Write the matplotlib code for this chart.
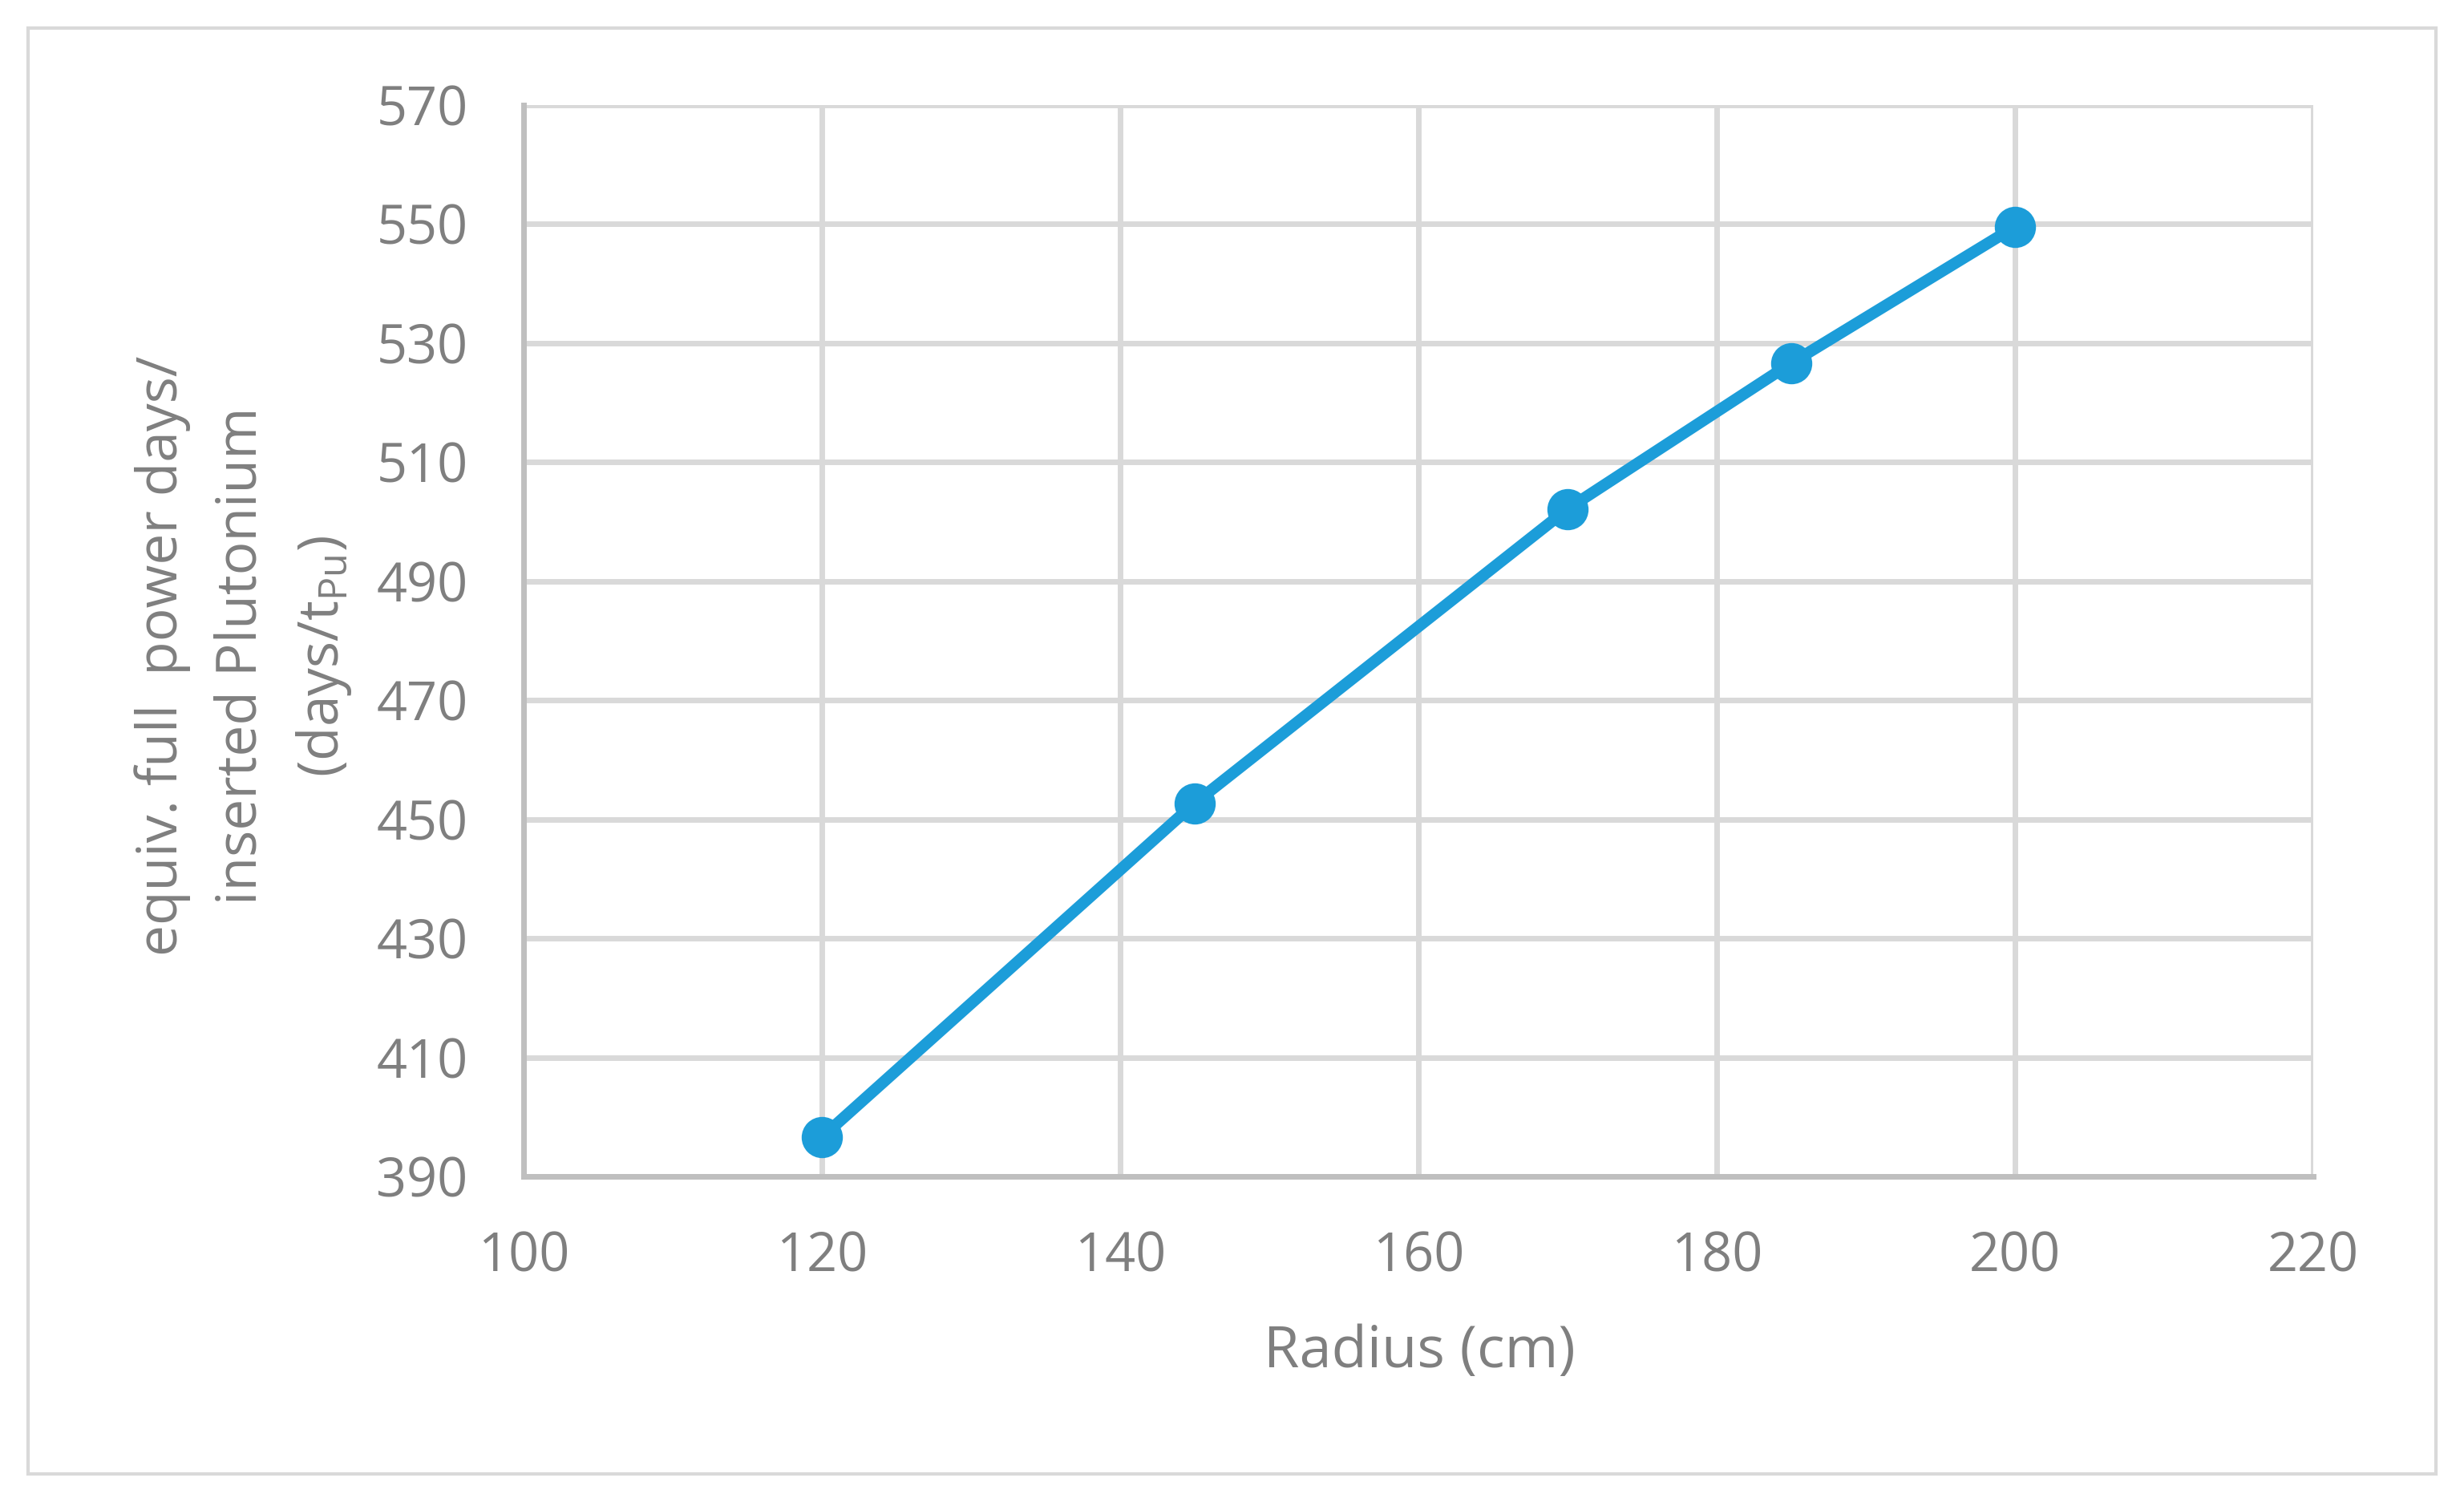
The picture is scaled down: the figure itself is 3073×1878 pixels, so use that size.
import matplotlib
matplotlib.use('Agg')
import matplotlib.pyplot as plt
from matplotlib.patches import Rectangle

plt.rcParams['font.family'] = ['Open Sans', 'DejaVu Sans']
plt.rcParams['mathtext.default'] = 'regular'

# data
radius = [120, 145, 170, 185, 200]
efpd_per_tpu = [396.6, 452.7, 502.1, 526.6, 549.5]

x_ticks = [100, 120, 140, 160, 180, 200, 220]
y_ticks = [390, 410, 430, 450, 470, 490, 510, 530, 550, 570]

grey_text = '#7F7F7F'
blue = '#1C9DD9'

fig = plt.figure(figsize=(15.365, 9.39), dpi=200)
ax = fig.add_axes([0.2125, 0.2188, 0.7263, 0.7117])

ax.plot(radius, efpd_per_tpu, color=blue, lw=5.2, marker='o', ms=17.5,
        markerfacecolor=blue, markeredgecolor=blue, zorder=3, clip_on=False)

ax.set_xlim(100, 220)
ax.set_ylim(390, 570)
ax.set_xticks(x_ticks)
ax.set_yticks(y_ticks)
ax.grid(True, color='#D9D9D9', lw=2.5)
ax.set_axisbelow(True)

for s in ['top', 'right']:
    ax.spines[s].set_visible(False)
for s in ['left', 'bottom']:
    ax.spines[s].set_color('#BFBFBF')
    ax.spines[s].set_linewidth(2.5)

ax.tick_params(length=0, labelsize=24, labelcolor=grey_text)
ax.tick_params(axis='y', pad=25)
ax.tick_params(axis='x', pad=24)

fig.text(1770 / 3073, 1 - 1686 / 1878, 'Radius (cm)', ha='center', va='center',
         fontsize=26, color=grey_text)
fig.text(304 / 3073, 1 - 818 / 1878,
         'equiv. full  power days/\ninserted Plutonium\n(days/t$_{Pu}$)',
         ha='center', va='center', rotation=90, multialignment='center',
         fontsize=25, color=grey_text, linespacing=1.55)

# outer chart border
fig.patches.append(Rectangle((35 / 3073, 1 - 1838 / 1878), (3038 - 35) / 3073,
                             (1838 - 35) / 1878, transform=fig.transFigure,
                             fill=False, edgecolor='#D9D9D9', lw=1.5))

fig.savefig('out.png', dpi=200)
